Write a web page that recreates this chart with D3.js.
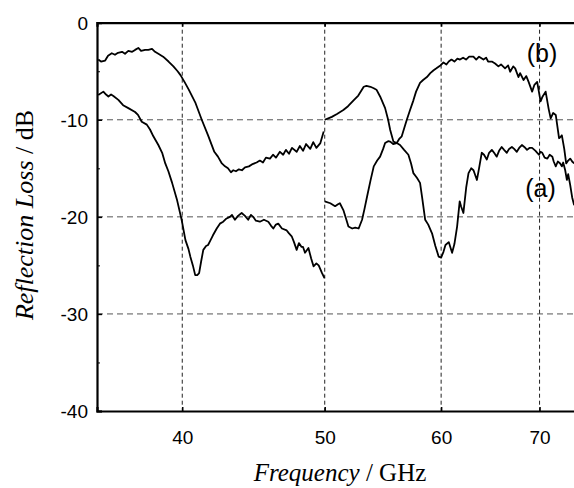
<!DOCTYPE html>
<html>
<head>
<meta charset="utf-8">
<script src="https://cdn.jsdelivr.net/npm/d3@7"></script>
<style>
  body { margin: 0; background: #fff; }
  svg { display: block; }
</style>
</head>
<body>
<div class="chart"></div>
<script>
// canvas size
var width = 574, height = 488;

// curve (a): 33-50 GHz band, then 50-75 GHz band
var freqA1 = [35.07,35.22,35.45,35.61,35.82,36.0,36.17,36.40,36.57,36.76,36.98,37.15,37.34,37.50,37.74,37.93,38.15,38.33,38.53,38.82,39.15,39.45,39.71,39.89,40.14,40.41,40.82,41.24,41.65,42.06,42.30,42.56,42.77,42.97,43.17,43.33,43.51,43.71,43.92,44.13,44.40,44.61,44.94,45.17,45.39,45.60,45.89,46.11,46.32,46.61,46.85,47.05,47.28,47.50,47.85,48.09,48.33,48.56,48.88,49.11,49.35,49.66,49.92];
var lossA1 = [-3.8,-4.0,-3.9,-3.4,-3.15,-3.3,-3.1,-3.0,-3.2,-2.9,-3.0,-2.8,-2.6,-2.9,-2.8,-2.8,-2.7,-3.0,-3.2,-3.5,-4.0,-4.5,-5.0,-5.4,-6.1,-6.9,-8.2,-10.0,-11.6,-13.3,-13.8,-14.5,-14.8,-15.0,-15.4,-15.2,-15.3,-15.1,-15.2,-14.9,-14.8,-14.6,-14.4,-14.2,-14.4,-13.9,-14.0,-13.6,-13.9,-13.3,-13.6,-13.1,-13.5,-12.9,-13.3,-12.7,-13.2,-12.5,-13.0,-12.3,-12.9,-12.4,-11.2];
var freqA2 = [50.0,50.28,50.56,50.97,51.48,51.86,52.31,52.70,53.15,53.38,53.71,53.99,54.22,54.53,54.96,55.22,55.40,55.68,55.97,56.26,56.62,57.00,57.24,57.45,57.78,58.05,58.24,58.52,58.80,59.15,59.46,59.77,60.0,60.22,60.41,60.72,61.04,61.26,61.52,61.77,61.90,62.13,62.40,62.63,62.89,63.12,63.46,63.67,63.94,64.17,64.45,64.68,64.96,65.19,65.46,65.70,65.97,66.22,66.50,66.74,67.03,67.27,67.55,67.80,68.09,68.35,68.64,68.90,69.19,69.56,69.93,70.11,70.30,70.56,70.86,71.12,71.42,71.57,71.80,72.03,72.30,72.49,72.64,72.87,73.06,73.21,73.44,73.67,73.90];
var lossA2 = [-10.0,-9.85,-9.7,-9.4,-9.0,-8.6,-8.0,-7.5,-6.6,-6.5,-6.6,-6.75,-6.9,-7.6,-8.8,-10.0,-11.05,-12.25,-12.4,-12.6,-13.1,-13.6,-14.5,-15.5,-16.0,-16.5,-18.0,-20.3,-20.8,-21.7,-23.0,-24.1,-24.2,-23.6,-22.9,-22.6,-23.7,-22.8,-21.0,-18.4,-18.9,-19.6,-17.0,-15.5,-15.0,-15.2,-16.2,-15.0,-13.4,-13.6,-14.1,-13.4,-13.1,-13.4,-13.8,-13.2,-12.8,-13.1,-13.4,-13.0,-12.8,-13.0,-13.3,-12.9,-12.6,-12.8,-13.1,-12.9,-12.9,-13.2,-13.6,-13.3,-13.4,-13.9,-14.0,-13.6,-13.8,-14.3,-14.8,-14.3,-14.5,-14.8,-14.4,-15.2,-16.2,-15.6,-16.7,-18.0,-18.8];

// curve (b)
var freqB1 = [35.07,35.35,35.50,35.63,35.78,35.91,36.19,36.46,36.76,37.15,37.32,37.54,37.84,38.03,38.23,38.53,38.76,38.95,39.14,39.37,39.68,39.96,40.20,40.39,40.51,40.67,40.82,40.95,41.07,41.20,41.34,41.52,41.65,41.78,41.97,42.22,42.43,42.65,42.84,43.10,43.24,43.44,43.65,43.90,44.13,44.35,44.54,44.70,44.89,45.17,45.46,45.77,45.96,46.13,46.32,46.49,46.76,47.11,47.28,47.48,47.65,47.85,48.02,48.22,48.33,48.48,48.74,48.95,49.13,49.35,49.53,49.79,49.98];
var lossB1 = [-7.45,-7.1,-7.4,-7.6,-7.4,-7.55,-7.95,-8.5,-8.8,-9.2,-9.5,-10.2,-10.5,-11.0,-11.7,-12.6,-13.4,-14.5,-15.3,-16.5,-18.3,-20.3,-22.4,-23.3,-24.1,-25.0,-26.0,-26.0,-25.8,-24.6,-23.4,-23.0,-22.9,-22.5,-21.9,-21.2,-20.7,-20.5,-20.2,-20.0,-19.8,-20.3,-19.9,-19.6,-19.9,-20.3,-19.8,-20.0,-20.4,-20.5,-20.3,-20.5,-20.9,-21.2,-20.8,-20.7,-21.2,-21.4,-21.7,-22.0,-22.6,-23.4,-22.7,-23.1,-23.1,-23.7,-23.2,-24.3,-25.1,-24.8,-25.0,-25.8,-26.3];
var freqB2 = [50.0,50.44,50.82,51.05,51.20,51.48,51.70,51.89,52.20,52.45,52.73,53.01,53.21,53.43,53.71,53.99,54.28,54.53,54.79,54.96,55.22,55.40,55.66,55.97,56.17,56.41,56.62,56.86,57.15,57.45,57.69,58.05,58.33,58.68,58.99,59.30,59.56,59.93,60.22,60.50,60.72,60.98,61.26,61.55,61.80,62.10,62.39,62.69,63.11,63.39,63.67,64.11,64.38,64.58,64.96,65.29,65.63,65.90,66.32,66.64,66.85,67.17,67.38,67.72,67.90,68.27,68.56,68.81,69.19,69.44,69.74,70.11,70.34,70.67,71.01,71.23,71.51,71.80,72.17,72.30,72.49,72.76,72.98,73.21,73.44,73.67,73.90];
var lossB2 = [-18.4,-18.6,-18.9,-18.7,-18.6,-19.3,-20.2,-21.0,-21.2,-21.1,-21.2,-20.3,-19.2,-17.9,-16.3,-14.8,-14.2,-13.8,-13.0,-12.4,-12.2,-12.25,-12.5,-12.4,-12.0,-11.7,-10.9,-10.0,-9.0,-8.0,-7.1,-6.2,-5.9,-5.6,-5.2,-4.9,-4.7,-4.4,-4.1,-4.3,-4.0,-3.8,-4.0,-3.7,-3.8,-3.6,-3.8,-3.5,-3.5,-3.8,-3.5,-3.8,-3.6,-4.0,-4.0,-4.2,-4.5,-4.3,-4.7,-4.4,-5.05,-4.5,-4.7,-5.6,-5.2,-5.9,-5.5,-6.1,-7.1,-6.4,-6.1,-8.1,-7.6,-7.1,-8.9,-9.85,-9.3,-9.5,-11.9,-11.8,-11.6,-13.0,-14.5,-14.2,-14.0,-14.3,-14.5];

var xTicks = [40, 50, 60, 70];
var yTicks = [0, -10, -20, -30, -40];
var yMinor = [-5, -15, -25, -35];
var yGrid = [-10, -20, -30];
var curveLabels = [
    {name: '(b)', f: 70.27, db: -4.0},
    {name: '(a)', f: 70.1, db: -18.0}
];

var plotLeft = 97, plotTop = 22.7, plotBottom = 411;
var x = d3.scaleLog().domain([35, 75]).range([plotLeft, 583.6]);
var y = d3.scaleLinear().domain([-40, 0]).range([plotBottom, plotTop]);

var svg = d3.select('.chart').append('svg')
    .attr('width', width)
    .attr('height', height);

function zip(fs, ls) {
    return fs.map(function (f, i) { return [f, ls[i]]; });
}
var segments = [zip(freqA1, lossA1), zip(freqA2, lossA2), zip(freqB1, lossB1), zip(freqB2, lossB2)];

// grid lines
svg.append('g').selectAll('line').data(yGrid).enter().append('line')
    .attr('x1', plotLeft).attr('x2', width)
    .attr('y1', function (d) { return y(d); })
    .attr('y2', function (d) { return y(d); })
    .attr('stroke', '#555').attr('stroke-width', 1)
    .attr('stroke-dasharray', '6,4');
svg.append('g').selectAll('line').data(xTicks).enter().append('line')
    .attr('x1', function (d) { return x(d); })
    .attr('x2', function (d) { return x(d); })
    .attr('y1', plotTop).attr('y2', plotBottom)
    .attr('stroke', '#222').attr('stroke-width', 1)
    .attr('stroke-dasharray', '4,3');

// curves
var line = d3.line()
    .x(function (d) { return x(d[0]); })
    .y(function (d) { return y(d[1]); });
svg.append('g').selectAll('path').data(segments).enter().append('path')
    .attr('d', line)
    .attr('fill', 'none')
    .attr('stroke', '#000')
    .attr('stroke-width', 1.8)
    .attr('stroke-linejoin', 'round');

// axes frame
var gx = svg.append('g').attr('transform', 'translate(0,' + plotBottom + ')')
    .call(d3.axisBottom(x).tickValues(xTicks).tickSize(-4).tickPadding(20)
        .tickFormat(d3.format('d')));
var gxt = svg.append('g').attr('transform', 'translate(0,' + plotTop + ')')
    .call(d3.axisTop(x).tickValues(xTicks).tickSize(-4).tickFormat(''));
var gy = svg.append('g').attr('transform', 'translate(' + plotLeft + ',0)')
    .call(d3.axisLeft(y).tickValues(yTicks).tickSize(-5).tickPadding(9)
        .tickFormat(function (d) { return d === 0 ? '0' : '-' + Math.abs(d); }));
svg.append('g').attr('transform', 'translate(' + plotLeft + ',0)')
    .call(d3.axisLeft(y).tickValues(yMinor).tickSize(-3).tickFormat(''))
    .select('.domain').remove();

[gx, gxt, gy].forEach(function (g) {
    g.select('.domain').attr('stroke', '#000').attr('stroke-width', 2.2);
    g.selectAll('.tick line').attr('stroke', '#000').attr('stroke-width', 1.5);
    g.selectAll('text').attr('font-family', 'Liberation Sans, Arial, sans-serif')
        .attr('font-size', 19).attr('fill', '#000');
});
gy.selectAll('text').attr('dy', '0.36em');

// curve labels
svg.append('g').selectAll('text').data(curveLabels).enter().append('text')
    .attr('x', function (d) { return x(d.f); })
    .attr('y', function (d) { return y(d.db); })
    .attr('text-anchor', 'middle')
    .attr('font-family', 'Liberation Sans, Arial, sans-serif')
    .attr('font-size', 25)
    .text(function (d) { return d.name; });

// axis titles
var xt = svg.append('text')
    .attr('x', 340).attr('y', 481)
    .attr('text-anchor', 'middle')
    .attr('font-family', 'Liberation Serif, Times New Roman, serif')
    .attr('font-size', 25);
xt.append('tspan').attr('font-style', 'italic').text('Frequency');
xt.append('tspan').text(' / GHz');

var yt = svg.append('text')
    .attr('transform', 'translate(33,215) rotate(-90)')
    .attr('text-anchor', 'middle')
    .attr('font-family', 'Liberation Serif, Times New Roman, serif')
    .attr('font-size', 26);
yt.append('tspan').attr('font-style', 'italic').text('Reflection Loss');
yt.append('tspan').text(' / dB');
</script>
</body>
</html>
